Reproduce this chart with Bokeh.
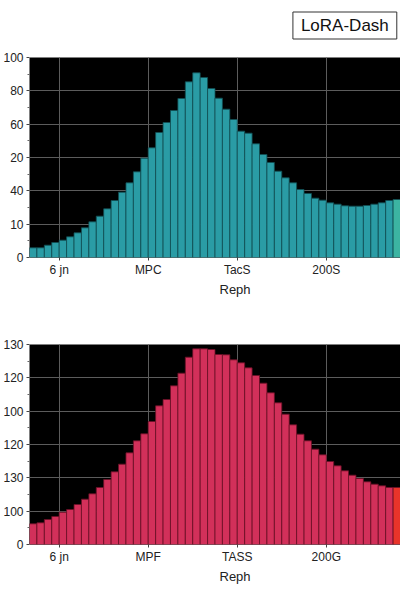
from bokeh.plotting import figure
from bokeh.layouts import column
from bokeh.models import ColumnDataSource, FixedTicker, Range1d, Label, Title
from bokeh.embed import file_html
from bokeh.resources import INLINE

# ---- data (bar heights in tick-position units, ticks are equally spaced) ----
n_bars = 50
top_values = [0.29, 0.29, 0.37, 0.45, 0.52, 0.62, 0.74, 0.89, 1.07, 1.24,
              1.46, 1.71, 1.96, 2.24, 2.57, 2.98, 3.29, 3.75, 4.05, 4.41,
              4.77, 5.27, 5.54, 5.40, 5.07, 4.78, 4.45, 4.14, 3.79, 3.73,
              3.41, 3.09, 2.85, 2.59, 2.39, 2.24, 2.04, 1.92, 1.78, 1.72,
              1.64, 1.60, 1.55, 1.54, 1.54, 1.56, 1.60, 1.64, 1.71, 1.74]
bottom_values = [0.62, 0.65, 0.75, 0.84, 0.97, 1.05, 1.20, 1.36, 1.52, 1.71,
                 1.95, 2.18, 2.41, 2.75, 3.11, 3.32, 3.69, 4.16, 4.35, 4.76,
                 5.14, 5.62, 5.87, 5.87, 5.85, 5.70, 5.69, 5.54, 5.45, 5.30,
                 5.07, 4.84, 4.55, 4.25, 3.91, 3.59, 3.31, 3.11, 2.86, 2.69,
                 2.49, 2.36, 2.21, 2.08, 1.98, 1.88, 1.81, 1.76, 1.71, 1.71]

x_tick_pos = [4, 16, 28, 40]
top_x_labels = ["6 jn", "MPC", "TacS", "200S"]
bottom_x_labels = ["6 jn", "MPF", "TASS", "200G"]
y_tick_pos = [0, 1, 2, 3, 4, 5, 6]
top_y_labels = ["0", "10", "40", "20", "60", "80", "100"]
bottom_y_labels = ["0", "100", "130", "120", "100", "120", "130"]
x_title = "Reph"
legend_text = "LoRA-Dash"

FONT = "Liberation Sans"
W = 400


def make_panel(values, colors, line_color, xlabels, ylabels, height, border_top):
    p = figure(width=W, height=height, output_backend="svg",
               toolbar_location=None, x_range=Range1d(0, n_bars),
               y_range=Range1d(0, 6), min_border_top=border_top,
               min_border_bottom=43, min_border_left=20, min_border_right=0)
    p.background_fill_color = "black"
    p.border_fill_color = "white"
    p.outline_line_color = None
    src = ColumnDataSource(dict(x=[i + 0.5 for i in range(n_bars)],
                                top=values, color=colors))
    p.vbar(x="x", top="top", bottom=0, width=1.0, source=src,
           fill_color="color", line_color=line_color, line_width=0.8)

    p.xaxis.ticker = FixedTicker(ticks=x_tick_pos)
    p.xaxis.major_label_overrides = {t: l for t, l in zip(x_tick_pos, xlabels)}
    p.yaxis.ticker = FixedTicker(ticks=y_tick_pos,
                                 minor_ticks=[v + 0.5 for v in y_tick_pos[:-1]])
    p.yaxis.major_label_overrides = {t: l for t, l in zip(y_tick_pos, ylabels)}
    for ax in (p.xaxis[0], p.yaxis[0]):
        ax.major_label_text_font = FONT
        ax.major_label_text_font_size = "12px"
        ax.major_label_text_color = "#222222"
        ax.axis_line_color = None
        ax.major_tick_line_color = "#444444"
        ax.major_tick_out = 3
        ax.major_tick_in = 0
        ax.major_label_standoff = 3
    p.xaxis.major_label_standoff = 2
    p.xaxis.minor_tick_line_color = None
    p.yaxis.minor_tick_line_color = "#666666"
    p.yaxis.minor_tick_out = 2
    p.yaxis.minor_tick_in = 0

    p.grid.grid_line_color = "#5c5c5c"
    p.grid.grid_line_width = 1

    p.add_layout(Title(text=x_title, align="left", offset=190, standoff=0,
                       text_font=FONT, text_font_size="13px",
                       text_line_height=1.0,
                       text_font_style="normal", text_color="#222222"),
                 "below")
    return p


# header strip holding the boxed series name
header = figure(width=W, height=49, output_backend="svg", toolbar_location=None,
                x_range=Range1d(0, W), y_range=Range1d(0, 49),
                min_border=0, x_axis_type=None, y_axis_type=None)
header.outline_line_color = None
header.grid.visible = False
header.background_fill_color = "white"
header.border_fill_color = "white"
header.add_layout(Label(x=340, y=24, text=legend_text, text_align="center",
                        text_baseline="middle", text_font=FONT,
                        text_font_size="17px", text_color="#111111",
                        background_fill_color="white",
                        border_line_color="#333333", border_line_width=1,
                        padding=dict(top=4, bottom=4, left=8, right=8)))

top_colors = ["#2a9ca5"] * (n_bars - 1) + ["#3cb4a2"]
bottom_colors = ["#d2305a"] * (n_bars - 1) + ["#e8342a"]

p1 = make_panel(top_values, top_colors, "#124e53", top_x_labels, top_y_labels,
                251, 8)
p2 = make_panel(bottom_values, bottom_colors, "#6a1026", bottom_x_labels,
                bottom_y_labels, 287, 44)

layout = column(header, p1, p2)
open("out.html", "w").write(file_html(layout, INLINE))
